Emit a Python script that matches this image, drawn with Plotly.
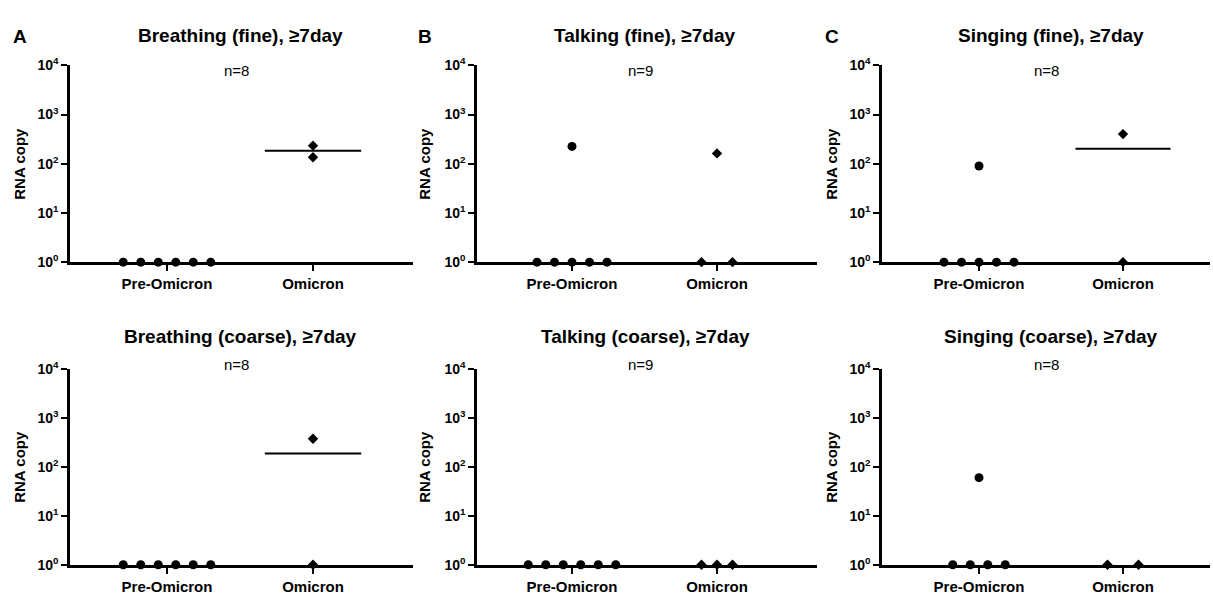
import numpy as np
import plotly.graph_objects as go

# ---------------- data ----------------
categories = ["Pre-Omicron", "Omicron"]
panel_letters = ["A", "B", "C", "", "", ""]
titles = ["Breathing (fine), ≥7day", "Talking (fine), ≥7day", "Singing (fine), ≥7day",
          "Breathing (coarse), ≥7day", "Talking (coarse), ≥7day", "Singing (coarse), ≥7day"]
n_labels = ["n=8", "n=9", "n=8", "n=8", "n=9", "n=8"]

pre_breathing_fine = [1, 1, 1, 1, 1, 1]
omi_breathing_fine = [233, 135]
pre_talking_fine = [1, 1, 1, 1, 1, 225]
omi_talking_fine = [1, 1, 162]
pre_singing_fine = [1, 1, 1, 1, 1, 90]
omi_singing_fine = [400, 1]
pre_breathing_coarse = [1, 1, 1, 1, 1, 1]
omi_breathing_coarse = [373, 1]
pre_talking_coarse = [1, 1, 1, 1, 1, 1]
omi_talking_coarse = [1, 1, 1]
pre_singing_coarse = [1, 1, 1, 1, 60]
omi_singing_coarse = [1, 1]

pre_groups = [pre_breathing_fine, pre_talking_fine, pre_singing_fine,
              pre_breathing_coarse, pre_talking_coarse, pre_singing_coarse]
omi_groups = [omi_breathing_fine, omi_talking_fine, omi_singing_fine,
              omi_breathing_coarse, omi_talking_coarse, omi_singing_coarse]

ytick_vals = [1, 10, 100, 1000, 10000]
ytick_text = ["<b>10<sup>0</sup></b>", "<b>10<sup>1</sup></b>", "<b>10<sup>2</sup></b>",
              "<b>10<sup>3</sup></b>", "<b>10<sup>4</sup></b>"]

# ---------------- layout geometry (pixels) ----------------
W, H = 1213, 598
col_x = [(70, 413), (477, 817), (882, 1210)]
col_cat0 = [167, 572, 979]
col_step = [146, 145, 144]
row_y = [(57, 260), (370, 572)]
FONT = "Liberation Sans, Arial, Helvetica, sans-serif"
Y_MIN = 1


def spread(values, step):
    """Spread identical values around the category centre (scatter-dot style)."""
    vals = np.asarray(values, dtype=float)
    offs = np.zeros(len(vals))
    for v in np.unique(vals):
        idx = np.where(vals == v)[0]
        k = len(idx)
        if k == 2:
            offs[idx] = np.array([-1.0, 1.0]) * step
        else:
            offs[idx] = (np.arange(k) - (k - 1) / 2) * step
    return offs


fig = go.Figure()
annotations = []

for p in range(6):
    r, c = divmod(p, 3)
    ax = "" if p == 0 else str(p + 1)
    x0, x1 = col_x[c]
    y0, y1 = row_y[r]
    step = col_step[c]
    rng0 = -(col_cat0[c] - x0) / step
    rng1 = (x1 - col_cat0[c]) / step

    fig.update_layout(**{
        f"xaxis{ax}": dict(domain=[x0 / W, x1 / W], range=[rng0, rng1],
                           anchor=f"y{ax}", showline=True, linewidth=2.5, linecolor="black",
                           showgrid=False, zeroline=False, tickmode="array",
                           tickvals=[0, 1], ticktext=[f"<b>{t}</b>" for t in categories],
                           ticks="outside", ticklen=6, tickwidth=2, tickcolor="black",
                           tickfont=dict(family=FONT, size=15, color="black"), fixedrange=True),
        f"yaxis{ax}": dict(domain=[1 - y1 / H, 1 - y0 / H], type="log", range=[0, 4],
                           anchor=f"x{ax}", showline=True, linewidth=2.5, linecolor="black",
                           showgrid=False, zeroline=False, tickmode="array",
                           tickvals=ytick_vals, ticktext=ytick_text,
                           ticks="outside", ticklen=6, tickwidth=2, tickcolor="black",
                           tickfont=dict(family=FONT, size=14, color="black"), fixedrange=True),
    })

    xa, ya = f"x{ax}", f"y{ax}"
    pre = pre_groups[p]
    omi = omi_groups[p]

    # medians (a median at the axis floor is hidden by the axis line)
    for ci, grp in enumerate([pre, omi]):
        med = float(np.median(grp))
        if med <= Y_MIN:
            continue
        fig.add_trace(go.Scatter(x=[ci - 0.33, ci + 0.33], y=[med, med], mode="lines",
                                 line=dict(color="black", width=2), xaxis=xa, yaxis=ya,
                                 showlegend=False, hoverinfo="skip", cliponaxis=False))

    fig.add_trace(go.Scatter(x=0 + spread(pre, 17.5 / step), y=pre, mode="markers",
                             marker=dict(symbol="circle", size=9, color="black"),
                             xaxis=xa, yaxis=ya, showlegend=False, cliponaxis=False,
                             name=categories[0]))
    fig.add_trace(go.Scatter(x=1 + spread(omi, 15.5 / step), y=omi, mode="markers",
                             marker=dict(symbol="diamond", size=8, color="black"),
                             xaxis=xa, yaxis=ya, showlegend=False, cliponaxis=False,
                             name=categories[1]))

    # title, n label, y title, panel letter
    title_cx = [240, 645, 1051][c]
    title_cy = [26, 337][r]
    annotations.append(dict(text=f"<b>{titles[p]}</b>", x=title_cx / W, y=1 - title_cy / H,
                            xref="paper", yref="paper", showarrow=False,
                            xanchor="center", yanchor="middle",
                            font=dict(family=FONT, size=19, color="black")))
    n_cx = [236, 640, 1046][c]
    n_cy = [62, 365][r]
    annotations.append(dict(text=n_labels[p], x=n_cx / W, y=1 - n_cy / H,
                            xref="paper", yref="paper", showarrow=False,
                            xanchor="center", yanchor="middle",
                            font=dict(family=FONT, size=15, color="black")))
    yt_cx = [20, 425, 832][c]
    annotations.append(dict(text="<b>RNA copy</b>", x=yt_cx / W, y=1 - ((y0 + y1) / 2) / H,
                            xref="paper", yref="paper", showarrow=False, textangle=-90,
                            xanchor="center", yanchor="middle",
                            font=dict(family=FONT, size=15, color="black")))
    if panel_letters[p]:
        annotations.append(dict(text=f"<b>{panel_letters[p]}</b>", x=[20, 425, 832][c] / W,
                                y=1 - 27 / H, xref="paper", yref="paper", showarrow=False,
                                xanchor="center", yanchor="middle",
                                font=dict(family=FONT, size=19, color="black")))

fig.update_layout(width=W, height=H, margin=dict(l=0, r=0, t=0, b=0),
                  paper_bgcolor="white", plot_bgcolor="white",
                  annotations=annotations, showlegend=False)

fig.write_html("out.html", config={"displayModeBar": False},
               post_script="document.body.style.margin='0';"
                           "document.body.style.overflow='hidden';")
